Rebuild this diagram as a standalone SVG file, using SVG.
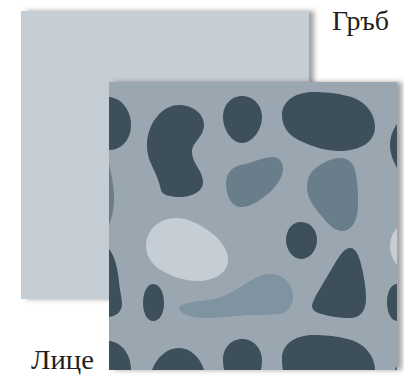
<svg xmlns="http://www.w3.org/2000/svg" width="404" height="375" viewBox="0 0 404 375">
<style>
.d{fill:#3c4f5b}.m{fill:#6a7d8b}.l{fill:#c5cdd5}.t{fill:#7f93a1}
text{font-family:"Liberation Serif","Noto Serif",serif;font-size:28px;fill:#231f20}
</style>
<defs>
<filter id="sh" x="-10%" y="-10%" width="120%" height="120%"><feDropShadow dx="5" dy="0" stdDeviation="2.6" flood-color="#4a3f3f" flood-opacity=".5"/></filter>
<clipPath id="c"><rect x="109" y="82" width="288" height="288"/></clipPath>
</defs>
<g id="back"><rect x="21" y="11" width="288" height="288" fill="#c5cdd5" filter="url(#sh)"/></g>
<g id="front">
<rect x="109" y="82" width="288" height="288" fill="#9aa7b1" filter="url(#sh)"/>
<g clip-path="url(#c)">
<path class="d" d="M109 97C122 98 131 111 131 125C131 139 122 150 109 150L100 150V97Z"/>
<path class="d" d="M179 105C193 105 204 114 204 125C204 137 192 142 192 152C192 164 203 170 203 182C203 191 193 197 179 197C171 197 162 195 161 190C159 182 157 176 153 168C149 160 147 154 147 145C147 124 162 105 179 105Z"/>
<path class="d" d="M242 96C254 96 262 106 262 117C262 130 252 143 242 143C232 143 223 130 223 117C223 105 231 96 242 96Z"/>
<path class="d" d="M313 92C328 92 343 94 354 98C367 103 375 115 375 127C375 142 360 151 340 151C327 151 313 147 303 142C290 137 282 128 282 115C282 101 296 92 313 92Z"/>
<path class="d" d="M397 124C392 131 390 138 390 145C390 153 393 161 397 168Z"/>
<path class="m" d="M273 157C279 157 283 162 283 169C283 177 276 187 268 194C259 201 250 207 241 207C232 207 226 196 226 184C226 174 231 167 241 165C252 163 263 157 273 157Z"/>
<path class="m" d="M340 158C350 158 355 165 356 175C358 186 358 197 358 205C358 220 352 231 342 231C334 231 326 222 319 213C312 204 307 197 307 187C307 176 312 170 320 165C327 161 333 158 340 158Z"/>
<path class="m" d="M109 165C112 175 114 190 114 198C114 208 112 218 109 225L100 225V165Z"/>
<path class="l" d="M176 218C188 218 199 224 209 231C220 239 228 249 228 260C228 273 214 281 197 281C184 281 170 276 159 269C151 263 146 255 146 246C146 229 160 218 176 218Z"/>
<path class="d" d="M301 222C311 222 317 231 317 240C317 251 309 259 301 259C293 259 286 250 286 240C286 230 292 222 301 222Z"/>
<path class="d" d="M350 248C356 248 359 256 361 264C364 276 366 288 366 299C366 311 360 318 350 318C340 318 327 316 318 313C312 310 311 307 313 302C317 292 325 281 331 270C337 260 343 248 350 248Z"/>
<path class="l" d="M397 228C392 233 390 240 390 246C390 253 393 260 397 265Z"/>
<path class="d" d="M397 284C391 284 387 292 387 302C387 312 391 321 397 321Z"/>
<path class="d" d="M109 249C115 256 118 270 119 282C120 292 122 298 122 304C122 312 116 316 109 317L100 317V249Z"/>
<path class="d" d="M153 284C160 284 164 293 164 303C164 313 160 321 153 321C147 321 143 313 143 303C143 293 147 284 153 284Z"/>
<path class="t" d="M270 274C283 274 293 284 293 296C293 307 287 314 277 314C268 315 258 315 248 315C235 316 218 318 205 318C195 318 180 315 179 308C180 304 190 302 200 301C212 300 222 298 232 292C245 285 257 274 270 274Z"/>
<path class="d" d="M109 341C122 342 131 355 131 370V380H100V341Z"/>
<path class="d" d="M179 348C190 348 200 357 204 370V380H152V370C157 357 167 348 179 348Z"/>
<path class="d" d="M242 339C254 339 262 349 262 360C262 366 261 370 260 373V380H225V373C224 370 223 366 223 360C223 348 231 339 242 339Z"/>
<path class="d" d="M313 335C328 335 343 337 354 341C367 346 375 358 375 370V380H283V370C282 366 282 362 282 358C282 344 296 335 313 335Z"/>
<path class="d" d="M397 366L395 370H397Z"/>
</g>
</g>
<g id="connectors"></g>
<g id="label-back"><text x="332" y="30" textLength="57" lengthAdjust="spacingAndGlyphs">Гръб</text></g>
<g id="label-front"><text x="31" y="369" textLength="63" lengthAdjust="spacingAndGlyphs">Лице</text></g>
</svg>
